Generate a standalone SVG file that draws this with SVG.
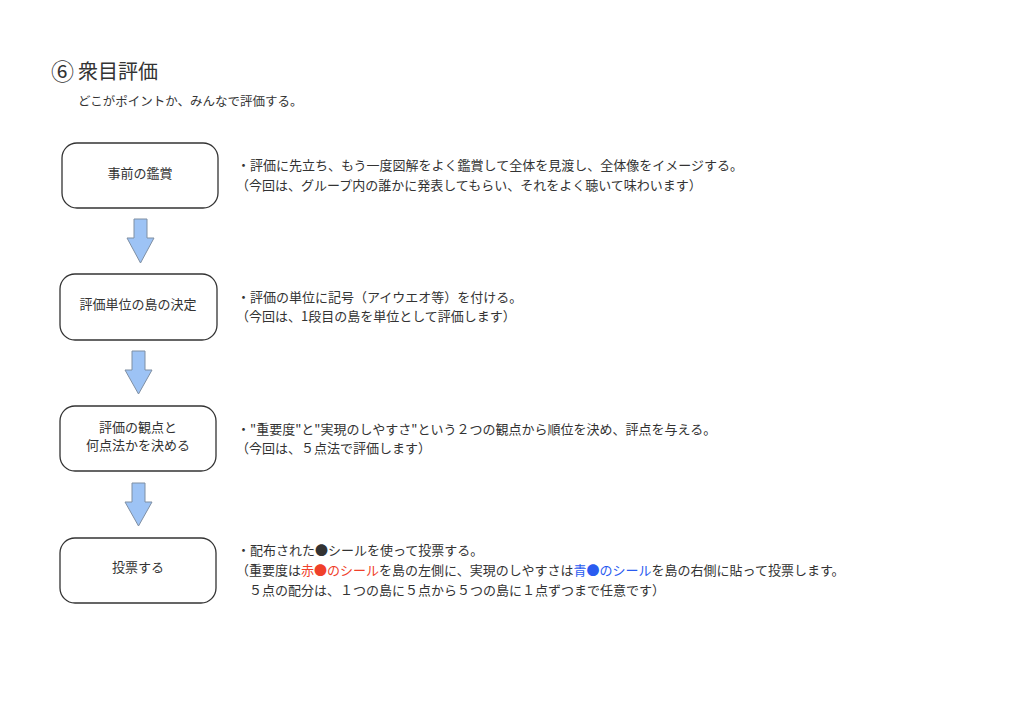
<svg xmlns="http://www.w3.org/2000/svg" width="1024" height="710" viewBox="0 0 1024 710">
<style>
text{font-family:"Noto Sans CJK JP","Noto Sans",sans-serif;fill:#333;}
.t{font-size:13px;}
.n{font-size:13px;text-anchor:middle;dominant-baseline:central;}
.box{fill:#fff;stroke:#333;stroke-width:1.3;}
.arr{fill:#9dc3f5;stroke:#7f8fa3;stroke-width:1;}
.red{fill:#f0402a;}
.blue{fill:#2a5bf0;}
</style>
<rect width="1024" height="710" fill="#fff"/>
<g id="title">
<text x="51" y="80" style="font-size:23px">⑥</text>
<text x="78" y="79" style="font-size:20px">衆目評価</text>
<text x="78" y="106" style="font-size:12.5px">どこがポイントか、みんなで評価する。</text>
</g>
<g id="node1">
<rect class="box" x="62" y="143" width="156" height="65" rx="15"/>
<text class="n" x="140" y="172">事前の鑑賞</text>
</g>
<g id="node2">
<rect class="box" x="60" y="274" width="157" height="66" rx="15"/>
<text class="n" x="138" y="303">評価単位の島の決定</text>
</g>
<g id="node3">
<rect class="box" x="60" y="406" width="156" height="65" rx="15"/>
<text class="n" x="138" y="426">評価の観点と</text>
<text class="n" x="138" y="444">何点法かを決める</text>
</g>
<g id="node4">
<rect class="box" x="60" y="538" width="156" height="65" rx="15"/>
<text class="n" x="138" y="566">投票する</text>
</g>
<g id="connectors">
<path class="arr" d="M134,219 H147 V238 H154 L140.5,263 L127,238 H134 Z"/>
<path class="arr" d="M132,351 H145 V370 H152 L138.5,394 L125,370 H132 Z"/>
<path class="arr" d="M132,483 H145 V502 H152 L138.5,526 L125,502 H132 Z"/>
</g>
<g id="desc1">
<text class="t" x="237" y="170">・評価に先立ち、もう一度図解をよく鑑賞して全体を見渡し、全体像をイメージする。</text>
<text class="t" x="236" y="190">（今回は、グループ内の誰かに発表してもらい、それをよく聴いて味わいます）</text>
</g>
<g id="desc2">
<text class="t" x="237" y="302">・評価の単位に記号（アイウエオ等）を付ける。</text>
<text class="t" x="236" y="321">（今回は、1段目の島を単位として評価します）</text>
</g>
<g id="desc3">
<text class="t" x="237" y="434">・"重要度"と"実現のしやすさ"という２つの観点から順位を決め、評点を与える。</text>
<text class="t" x="236" y="453">（今回は、５点法で評価します）</text>
</g>
<g id="desc4">
<text class="t" x="237" y="555">・配布された●シールを使って投票する。</text>
<text class="t" x="236" y="575">（重要度は<tspan class="red">赤●のシール</tspan>を島の左側に、実現のしやすさは<tspan class="blue">青●のシール</tspan>を島の右側に貼って投票します。</text>
<text class="t" x="249" y="595">５点の配分は、１つの島に５点から５つの島に１点ずつまで任意です）</text>
</g>
</svg>
